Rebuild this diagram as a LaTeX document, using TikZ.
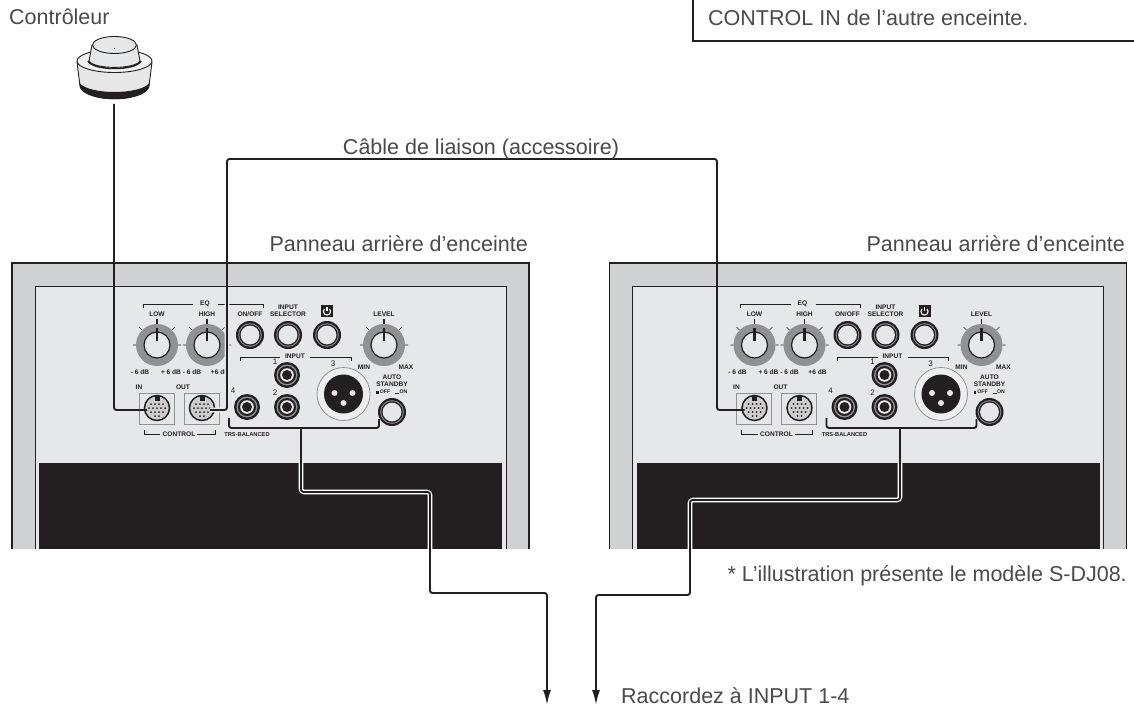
\documentclass[tikz,border=0pt]{standalone}
\usepackage{fontspec}
\setmainfont{Liberation Sans}
\usetikzlibrary{arrows.meta}

\definecolor{framegray}{HTML}{CFD1D3}
\definecolor{panelgray}{HTML}{E6E7E8}
\definecolor{knobgray}{HTML}{8F9193}
\definecolor{inkblack}{HTML}{231F20}
\definecolor{textgray}{HTML}{4A4A4C}

\tikzset{
    cable/.style={line width=1.9pt, inkblack, rounded corners=2.5pt},
    cablehalo/.style={line width=4.6pt, rounded corners=3pt},
    bracket/.style={line width=0.7pt, inkblack},
    caption/.style={text=textgray, font=\fontsize{21.5}{25}\selectfont, inner sep=0pt},
    tiny/.style={font=\fontsize{6.6}{7.4}\selectfont\bfseries, text=inkblack, inner sep=0pt, align=center},
    digit/.style={font=\fontsize{8}{9}\selectfont, text=inkblack, inner sep=0pt},
    knob/.pic={
        \draw[inkblack, line width=0.6pt] (-15,-15) -- (-18,-18) (15,-15) -- (18,-18) (-21,0) -- (-24,0) (21,0) -- (24,0);
        \draw[inkblack, line width=1.2pt] (0,-21) -- (0,-26);
        \fill[knobgray] (0,0) circle (21);
        \draw[inkblack, line width=1.2pt, fill=panelgray] (0,0) circle (13);
        \draw[inkblack, line width=2.4pt] (0,-17) -- (0,-4);
    },
    button/.pic={
        \fill[inkblack] (0,0) circle (14);
        \fill[knobgray] (0,0) circle (11.8);
        \fill[inkblack] (0,0) circle (10.8);
        \fill[panelgray] (0,0) circle (9.4);
    },
    jack/.pic={
        \fill[inkblack] (0,0) circle (13);
        \fill[knobgray] (0,0) circle (10.5);
        \fill[inkblack] (0,0) circle (9);
        \fill[panelgray] (0,0) circle (6.8);
        \fill[inkblack] (0,0) circle (5);
    },
    port/.pic={
        \draw[knobgray, line width=1pt, fill=panelgray] (-18,-15) rectangle (17,16);
        \draw[inkblack, line width=1.5pt, fill=knobgray!45] (0,0) circle (12.5);
        \fill[inkblack] (-2.5,-12) rectangle (2.5,-7);
        \foreach \ptx/\pty in {-6/-4,-2/-4,2/-4,6/-4,-8/0,-4/0,0/0,4/0,8/0,-6/4,-2/4,2/4,6/4,-2/8,2/8}
            \fill[inkblack] (\ptx,\pty) circle (1);
    },
    % one whole rear panel, with the jacks the cables land on
    rearpanel/.pic={
        \fill[framegray] (12,263) rectangle (529,549);
        \draw[inkblack, line width=1.8pt] (12,549) -- (12,263) -- (529,263) -- (529,549);
        \draw[inkblack, line width=0.9pt, fill=panelgray] (35,549) -- (35,286) -- (506,286) -- (506,549);
        \fill[inkblack] (39,463) rectangle (502,549);
        \draw[bracket] (143,308) -- (143,304) -- (193,304) (218,304) -- (263,304) -- (263,308);
        \node[tiny] (eq) at (205,304) {EQ};
        \node[tiny] (low) at (157,314) {LOW};
        \node[tiny] (high) at (207,314) {HIGH};
        \node[tiny] (onoff) at (250,314) {ON/OFF};
        \node[tiny] (selector) at (288,311) {INPUT\\SELECTOR};
        \node[tiny] (level) at (384,314) {LEVEL};
        \pic at (157,345) {knob};
        \pic at (207,345) {knob};
        \pic at (384,345) {knob};
        \pic at (250,335) {button};
        \pic at (288,335) {button};
        \pic at (327,335) {button};
        \fill[inkblack] (321,305) rectangle (333,317);
        \draw[white, line width=1.1pt] (329.55,308.95) arc (-45:225:3.6);
        \draw[white, line width=1.1pt] (327,307) -- (327,311);
        \node[tiny] (minusa) at (140,372) {- 6 dB};
        \node[tiny] (plusa) at (171,372) {+ 6 dB};
        \node[tiny] (minusb) at (192,372) {- 6 dB};
        \node[tiny] (plusb) at (220,372) {+6 dB};
        \node[tiny] (min) at (364,367) {MIN};
        \node[tiny] (max) at (406,367) {MAX};
        \draw[bracket] (240,361) -- (240,357) -- (280,357) (310,357) -- (351,357) -- (351,361);
        \node[tiny] (input) at (295,356) {INPUT};
        \node[digit] (one) at (275,362) {1};
        \node[digit] (two) at (275,393) {2};
        \node[digit] (three) at (333,364) {3};
        \node[digit] (four) at (233,391) {4};
        \pic at (287,375) {jack};
        \pic at (287,407) {jack};
        \pic at (247,407) {jack};
        % xlr socket
        \draw[knobgray, line width=0.8pt, fill=panelgray!70] (343.5,394) circle (26.5);
        \fill[inkblack] (343.5,394) circle (19.5);
        \fill[panelgray] (334.5,393) circle (3) (352.5,393) circle (3) (343.5,403) circle (3);
        \node[tiny] (auto) at (392,381) {AUTO\\STANDBY};
        \node[tiny, font=\fontsize{5.2}{6}\selectfont\bfseries] (off) at (385,392) {OFF};
        \node[tiny, font=\fontsize{5.2}{6}\selectfont\bfseries] (on) at (403.5,392) {ON};
        \fill[inkblack] (376,390.5) rectangle (378.5,393.8);
        \fill[inkblack] (395,393) rectangle (399,393.8);
        \pic at (392,412) {button};
        \node[tiny] (inlabel) at (139,387) {IN};
        \node[tiny] (outlabel) at (183,387) {OUT};
        \pic at (157,408) {port};
        \pic at (202,408) {port};
        \draw[bracket] (144,430) -- (144,434) -- (160,434) (197,434) -- (215,434) -- (215,430);
        \node[tiny] (control) at (179,434) {CONTROL};
        \node[tiny, font=\fontsize{5.7}{7}\selectfont\bfseries] (balanced) at (247,435) {TRS-BALANCED};
        \coordinate (in) at (147,410);
        \coordinate (out) at (210,410);
        \coordinate (bracketleft) at (229,418);
        \coordinate (bracketright) at (379,419);
    }
}

\begin{document}
\begin{tikzpicture}[x=1pt, y=-1pt]
        \useasboundingbox (0,0) rectangle (1134,706);
        \fill[white] (0,0) rectangle (1134,706);

        % the two panels
        \pic (left) at (0,0) {rearpanel};
        \pic (right) at (597.5,0) {rearpanel};

        % controller
        \draw[inkblack, line width=0.9pt, fill=panelgray] (77,62) -- (80,86) .. controls (88,103) and (141,103) .. (149,86) -- (152,62) -- cycle;
        \fill[inkblack] (79.5,83) -- (80,88) .. controls (88,103) and (141,103) .. (149,88) -- (149.5,83) .. controls (140,95) and (89,95) .. (79.5,83) -- cycle;
        \draw[inkblack, line width=0.9pt, fill=panelgray!60] (114.5,61) ellipse (37.5 and 11.5);
        \draw[inkblack, line width=1.5pt] (88,61) .. controls (93,71) and (136,71) .. (141,61);
        \draw[inkblack, line width=0.9pt, fill=panelgray] (92,45) -- (89,61) .. controls (94,69.5) and (135,69.5) .. (140,61) -- (137,45) -- cycle;
        \draw[inkblack, line width=0.9pt, fill=panelgray] (114.5,45) ellipse (22 and 8.5);
        \fill[inkblack] (114.5,48.5) circle (0.5);

        % named ends of the cables
        \coordinate (controller) at (114,104);
        \coordinate (linkleft) at (227,159);
        \coordinate (linkright) at (717,159);
        \coordinate (leftstem) at (301,428);
        \coordinate (leftbend) at (430,492);
        \coordinate (leftdrop) at (547,593);
        \coordinate (leftend) at (547,705);
        \coordinate (rightstem) at (900,428);
        \coordinate (rightbend) at (690,500);
        \coordinate (rightdrop) at (596,595);
        \coordinate (rightend) at (596,705);

        % link cable halo over the left panel
        \begin{scope}
            \clip (36,287) rectangle (505,462);
            \draw[cablehalo, panelgray] (leftout) -| (linkleft);
        \end{scope}

        \draw[cable] (controller) |- (leftin);
        \draw[cable] (leftout) -| (linkleft) -- (linkright) |- (rightin);

        % white edge where the cables cross the black part
        \begin{scope}
            \clip (39,463) rectangle (502,549) (636,463) rectangle (1100,549);
            \draw[cablehalo, white] (leftstem) |- (leftbend) |- (leftdrop);
            \draw[cablehalo, white] (rightstem) |- (rightbend) |- (rightdrop);
        \end{scope}

        \draw[cable] (leftbracketleft) |- (leftstem) -| (leftbracketright);
        \draw[cable] (rightbracketleft) |- (rightstem) -| (rightbracketright);
        \draw[cable, -{Latex[length=15pt, width=8pt]}] (leftstem) |- (leftbend) |- (leftdrop) -- (leftend);
        \draw[cable, -{Latex[length=15pt, width=8pt]}] (rightstem) |- (rightbend) |- (rightdrop) -- (rightend);

        % note box, runs off the page
        \draw[inkblack, line width=1.5pt] (693,-5) -- (693,41) -- (1139,41);

        \node[caption, anchor=base west] (controllerlabel) at (9,25) {Contrôleur};
        \node[caption, anchor=base] (linklabel) at (481,154) {Câble de liaison (accessoire)};
        \node[caption, anchor=base east] (leftpanel) at (528,251) {Panneau arrière d'enceinte};
        \node[caption, anchor=base east] (rightpanel) at (1125,251) {Panneau arrière d'enceinte};
        \node[caption, anchor=base west] (note) at (708,26) {CONTROL IN de l'autre enceinte.};
        \node[caption, anchor=base east] (model) at (1127,581) {* L'illustration présente le modèle S-DJ08.};
        \node[caption, anchor=base west] (connect) at (621,703) {Raccordez à INPUT 1-4};
\end{tikzpicture}
\end{document}
